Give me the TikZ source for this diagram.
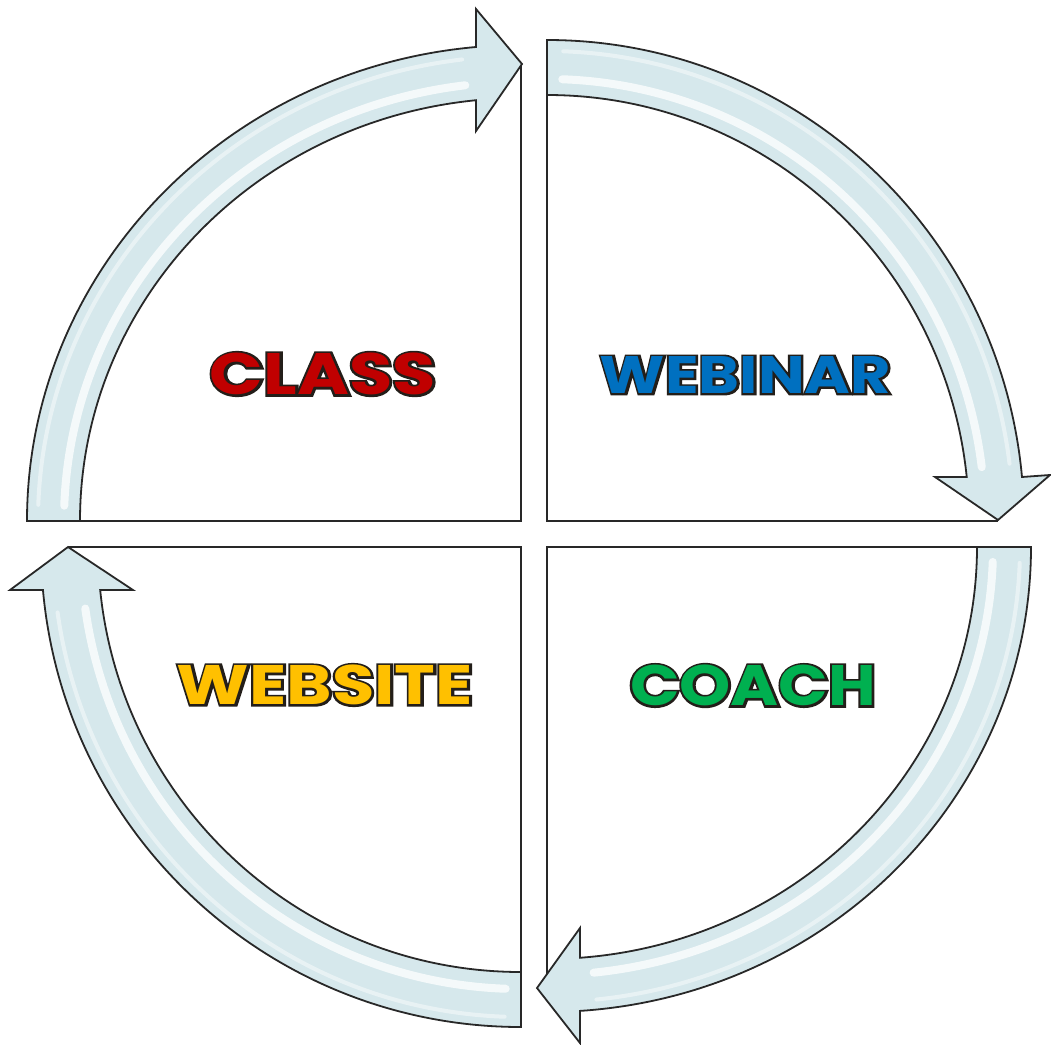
\documentclass[tikz,border=0pt]{standalone}
\usepackage{fontspec}
\usepackage{graphicx}
\newfontfamily\headfont{Poppins}
\newfontfamily\headfontol{Poppins}[BoldFeatures={FakeBold=7.5}]
\definecolor{bandfill}{RGB}{214,232,236}
\definecolor{bandline}{RGB}{40,40,40}
\definecolor{txtol}{RGB}{35,30,25}
\definecolor{cred}{RGB}{192,0,0}
\definecolor{cblue}{RGB}{0,112,192}
\definecolor{cyellow}{RGB}{255,192,0}
\definecolor{cgreen}{RGB}{0,176,80}
\newcommand{\wordfill}[3]{\resizebox*{#1}{#2}{\headfont\bfseries\fontsize{40}{40}\selectfont #3}}
\newcommand{\wordline}[3]{\resizebox*{#1}{#2}{\headfontol\bfseries\fontsize{40}{40}\selectfont #3}}
\begin{document}
\begin{tikzpicture}[x=1pt,y=-1pt,
  band/.style={fill=bandfill,draw=bandline,line width=1.8pt,line join=miter},
  gloss/.style={draw=white,line width=8pt,opacity=0.75,line cap=round},
  gloss2/.style={draw=white,line width=4pt,opacity=0.45,line cap=round},
  edge/.style={draw=bandline,line width=2.2pt,line cap=butt},
  word/.style={inner sep=0pt,anchor=center}]
\useasboundingbox (0,0) rectangle (1051,1044);
\fill[white] (0,0) rectangle (1051,1044);
% ---------- top left (CLASS) ----------
\begin{scope}[shift={(521,521)}]
  \draw[edge] (0,-457) -- (0,0) -- (-441,0);
  \draw[band] (180:494pt and 476pt)
    arc[start angle=180,end angle=95.23,x radius=494pt,y radius=476pt]
    -- (-45,-512) -- (1,-457) -- (-45,-390)
    -- (95.86:441pt and 423pt)
    arc[start angle=95.86,end angle=180,x radius=441pt,y radius=423pt] -- cycle;
  \draw[gloss] (178:457pt and 439pt) arc[start angle=178,end angle=97,x radius=457pt,y radius=439pt];
  \draw[gloss2] (178:483pt and 465pt) arc[start angle=178,end angle=97,x radius=483pt,y radius=465pt];
\end{scope}
% ---------- top right (WEBINAR) ----------
\begin{scope}[shift={(547,521)}]
  \draw[edge] (0,-426) -- (0,0) -- (451,0);
  \draw[band] (90:477pt and 481pt)
    arc[start angle=90,end angle=5.25,x radius=477pt,y radius=481pt]
    -- (503,-46) -- (451,-1) -- (388,-44)
    -- (5.93:422pt and 426pt)
    arc[start angle=5.93,end angle=90,x radius=422pt,y radius=426pt] -- cycle;
  \draw[gloss] (88:438pt and 442pt) arc[start angle=88,end angle=7,x radius=438pt,y radius=442pt];
  \draw[gloss2] (88:466pt and 470pt) arc[start angle=88,end angle=7,x radius=466pt,y radius=470pt];
\end{scope}
% ---------- bottom right (COACH) ----------
\begin{scope}[shift={(547,547)}]
  \draw[edge] (430,0) -- (0,0) -- (0,441);
  \draw[band] (0:484pt and 465pt)
    arc[start angle=0,end angle=-86.09,x radius=484pt,y radius=465pt]
    -- (33,496) -- (-10,441) -- (33,381)
    -- (-85.6:430pt and 412pt)
    arc[start angle=-85.6,end angle=0,x radius=430pt,y radius=412pt] -- cycle;
  \draw[gloss] (-2:446pt and 428pt) arc[start angle=-2,end angle=-84,x radius=446pt,y radius=428pt];
  \draw[gloss2] (-2:473pt and 455pt) arc[start angle=-2,end angle=-84,x radius=473pt,y radius=455pt];
\end{scope}
% ---------- bottom left (WEBSITE) ----------
\begin{scope}[shift={(521,547)}]
  \draw[edge] (0,425) -- (0,0) -- (-453,0);
  \draw[band] (-90:480pt and 480pt)
    arc[start angle=-90,end angle=-174.86,x radius=480pt,y radius=480pt]
    -- (-511,43) -- (-453,0) -- (-388,43)
    -- (-174.19:423pt and 425pt)
    arc[start angle=-174.19,end angle=-90,x radius=423pt,y radius=425pt] -- cycle;
  \draw[gloss] (-92:440pt and 442pt) arc[start angle=-92,end angle=-172,x radius=440pt,y radius=442pt];
  \draw[gloss2] (-92:468pt and 470pt) arc[start angle=-92,end angle=-172,x radius=468pt,y radius=470pt];
\end{scope}
% ---------- words: dark outline layer, then coloured layer ----------
\node[word,text=txtol] (class-ol)   at (323,374)   {\wordline{226pt}{42pt}{CLASS}};
\node[word,text=cred]  (class)      at (323,374)   {\wordfill{226pt}{42pt}{CLASS}};
\node[word,text=txtol] (webinar-ol) at (745.5,375) {\wordline{291pt}{37pt}{WEBINAR}};
\node[word,text=cblue] (webinar)    at (745.5,375) {\wordfill{291pt}{37pt}{WEBINAR}};
\node[word,text=txtol] (website-ol) at (325,685)   {\wordline{296pt}{40pt}{WEBSITE}};
\node[word,text=cyellow] (website)  at (325,685)   {\wordfill{296pt}{40pt}{WEBSITE}};
\node[word,text=txtol] (coach-ol)   at (753,685.5) {\wordline{246pt}{41pt}{COACH}};
\node[word,text=cgreen] (coach)     at (753,685.5) {\wordfill{246pt}{41pt}{COACH}};
\end{tikzpicture}
\end{document}
